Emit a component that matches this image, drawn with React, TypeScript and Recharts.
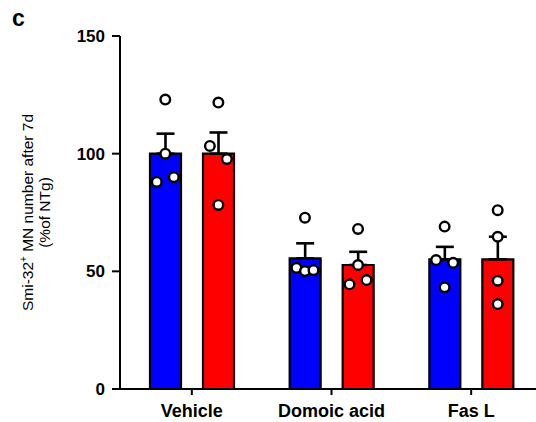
import { Bar, ComposedChart, ErrorBar, Scatter, XAxis, YAxis } from 'recharts'

const groups = ['Vehicle', 'Domoic acid', 'Fas L']

// bar means (% of NTg) and SEM (drawn upward only)
const blueMean = [100, 55.5, 55.1]
const redMean = [100, 52.7, 55.1]
const blueSem = [8.5, 6.4, 5.3]
const redSem = [9, 5.6, 9.6]

// individual animals, one list per group
const bluePoints = [
  [123, 100, 88, 90],
  [72.8, 51.5, 50.1, 50.5],
  [69, 54.8, 53.6, 43.2],
]
const redPoints = [
  [121.7, 103.3, 97.7, 78.2],
  [68, 52.7, 46.3, 44.5],
  [76, 64.7, 46, 36.1],
]
// horizontal spread of the dots inside a bar (-1 left, 0 centre, 1 right)
const blueJitter = [
  [0, 0, -1, 1],
  [0, -1, 0, 1],
  [0, -1, 1, 0],
]
const redJitter = [
  [0, -1, 1, 0],
  [0, 0, 1, -1],
  [0, 0, 0, 0],
]

const yTicks = [0, 50, 100, 150]

const BAR_OFFSET = 0.19 // half the distance between paired bars, in category units
const JITTER = 0.061

const barData = groups.map((name, i) => ({
  name,
  blue: blueMean[i],
  red: redMean[i],
  blueErr: [0, blueSem[i]],
  redErr: [0, redSem[i]],
}))

const toDots = (pts: number[][], jit: number[][], side: number) =>
  pts.flatMap((vals, i) =>
    vals.map((y, k) => ({ x: i + 0.5 + side * BAR_OFFSET + jit[i][k] * JITTER, y }))
  )

const dots = [...toDots(bluePoints, blueJitter, -1), ...toDots(redPoints, redJitter, 1)]

const font = '"Liberation Sans", Arial, Helvetica, sans-serif'

const Dot = (p: any) => (
  <circle cx={p.cx} cy={p.cy} r={4.8} fill="#fff" stroke="#000" strokeWidth={2.4} />
)

const YTitle = (props: any) => {
  const { viewBox } = props
  const cy = viewBox.y + viewBox.height / 2
  return (
    <g fontFamily={font} fontSize={15.5} fill="#000">
      <text x={33} y={cy} textAnchor="middle" transform={`rotate(-90 33 ${cy})`}>
        Smi-32
        <tspan dy={-6} fontSize={10}>+</tspan>
        <tspan dy={6}> MN number after 7d</tspan>
      </text>
      <text x={50} y={cy} textAnchor="middle" transform={`rotate(-90 50 ${cy})`}>
        (%of NTg)
      </text>
    </g>
  )
}

export default function App() {
  return (
    <div
      style={{
        position: 'absolute',
        left: 0,
        top: 0,
        width: 536,
        height: 422,
        overflow: 'hidden',
        background: '#fff',
      }}
    >
      <div
        style={{
          position: 'absolute',
          left: 12,
          top: 7,
          fontFamily: font,
          fontWeight: 700,
          fontSize: 23,
          lineHeight: '23px',
        }}
      >
        c
      </div>
      <ComposedChart
        width={541}
        height={422}
        data={barData}
        margin={{ top: 36, right: 0, bottom: 0, left: 0 }}
        barGap={22}
      >
        <XAxis
          xAxisId="cat"
          dataKey="name"
          height={33}
          padding={{ left: 2, right: 0 }}
          axisLine={{ stroke: '#000', strokeWidth: 2 }}
          tickLine={{ stroke: '#000', strokeWidth: 2 }}
          tickSize={6}
          tickMargin={9}
          tick={{ fill: '#000', fontSize: 18, fontWeight: 700, fontFamily: font }}
        />
        <XAxis
          xAxisId="pts"
          dataKey="x"
          type="number"
          domain={[0, 3]}
          allowDataOverflow
          padding={{ left: 2, right: 0 }}
          hide
        />
        <YAxis
          width={120}
          domain={[0, 150]}
          ticks={yTicks}
          allowDataOverflow
          axisLine={{ stroke: '#000', strokeWidth: 2 }}
          tickLine={{ stroke: '#000', strokeWidth: 2 }}
          tickSize={8}
          tickMargin={7}
          tick={{ fill: '#000', fontSize: 17, fontWeight: 700, fontFamily: font }}
          label={{ content: YTitle }}
        />
        <Bar xAxisId="cat" dataKey="blue" fill="#0000ff" stroke="#000" strokeWidth={2.2} barSize={31} isAnimationActive={false}>
          <ErrorBar dataKey="blueErr" direction="y" width={9} stroke="#000" strokeWidth={2.6} isAnimationActive={false} />
        </Bar>
        <Bar xAxisId="cat" dataKey="red" fill="#ff0000" stroke="#000" strokeWidth={2.2} barSize={31} isAnimationActive={false}>
          <ErrorBar dataKey="redErr" direction="y" width={9} stroke="#000" strokeWidth={2.6} isAnimationActive={false} />
        </Bar>
        <Scatter xAxisId="pts" data={dots} dataKey="y" shape={Dot} isAnimationActive={false} />
      </ComposedChart>
    </div>
  )
}
